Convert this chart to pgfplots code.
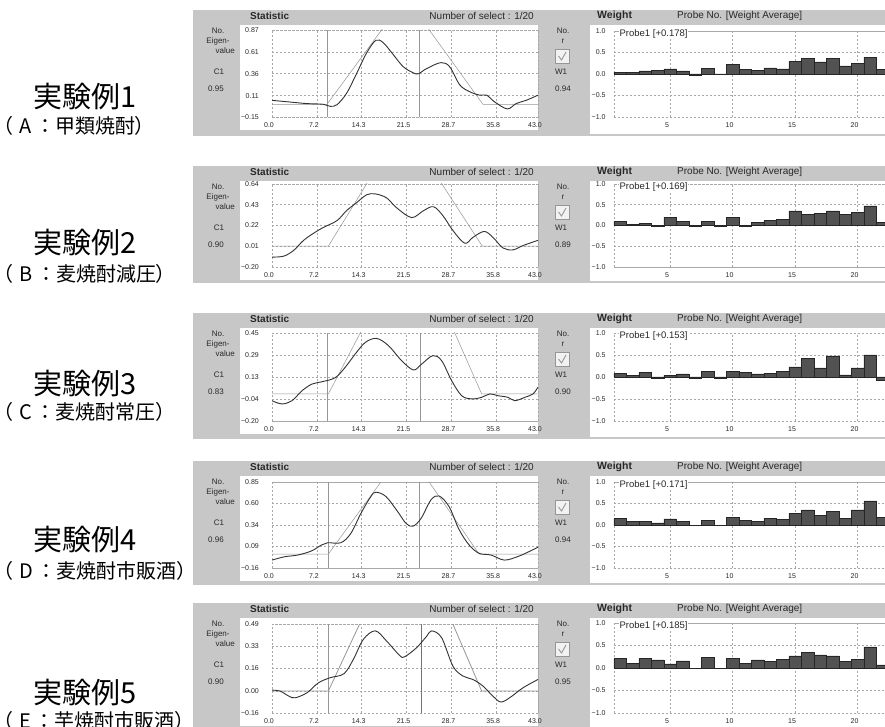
\documentclass[border=0pt]{standalone}
\usepackage{pgfplots}
\pgfplotsset{compat=1.18}
\usepackage{fontspec}
\setmainfont{Liberation Sans}
\newfontfamily\jp{Noto Sans CJK JP}
\newfontfamily\jpprop[RawFeature=+palt]{Noto Sans CJK JP}

\definecolor{panelgray}{RGB}{199,199,199}
\definecolor{gridgray}{RGB}{168,168,168}
\definecolor{curvecol}{RGB}{50,50,50}
\definecolor{guidecol}{RGB}{150,150,150}
\definecolor{barfill}{RGB}{82,82,82}
\definecolor{checkgray}{RGB}{150,150,150}
\definecolor{uitext}{RGB}{40,40,40}

\tikzset{
  probelabel/.style={anchor=west, fill=white, inner sep=0.8pt,
    font=\fontsize{9.5}{10}\selectfont, text=uitext},
}

\pgfplotsset{
  panelaxis/.style={
    scale only axis,
    anchor=north west,
    axis line style={gridgray, dash pattern=on 2pt off 2pt, line width=0.5pt},
    grid=major,
    major grid style={gridgray, dash pattern=on 2pt off 2pt, line width=0.5pt},
    major tick length=0pt,
    tick label style={font=\fontsize{7}{8}\selectfont, text=uitext},
    /pgf/number format/assume math mode=true,
    clip mode=individual,
  },
  statax/.style={
    panelaxis,
    width=266pt,
    xmin=0, xmax=42.5,
    xtick={0,7.17,14.33,21.5,28.67,35.83,42.5},
    xticklabels={0.0,7.2,14.3,21.5,28.7,35.8,43.0},
    xticklabel style={anchor=north, inner sep=0pt, yshift=-5pt, xshift=-3pt},
    yticklabel style={anchor=east, inner sep=0pt, xshift=-13pt},
  },
  weightax/.style={
    panelaxis,
    width=271.25pt,
    xmin=0.5, xmax=22.2, ymin=-1, ymax=1,
    xtick={5,10,15,20},
    xticklabels={5,10,15,20},
    ytick={-1,-0.5,0,0.5,1},
    yticklabels={−1.0,−0.5,0.0,0.5,1.0},
    xticklabel style={anchor=north, inner sep=0pt, yshift=-5.5pt, xshift=-3pt},
    yticklabel style={anchor=east, inner sep=0pt, xshift=-8pt},
  },
  curve/.style={curvecol, line width=0.9pt, smooth, tension=0.55, no markers},
  guide/.style={guidecol, line width=0.5pt, no markers},
  wbar/.style={ybar, bar width=1, fill=barfill, draw=black!85, line width=0.45pt},
}

% Grey window frame of one result row:
% #1 top, #2 bottom, #3 bottom of the plot areas (pixels from the top edge),
% #4 eigenvalue C1, #5 weight W1
\newcommand{\panel}[5]{%
  \pgfmathsetmacro{\T}{726-#1}%
  \pgfmathsetmacro{\B}{726-#2}%
  \pgfmathsetmacro{\P}{726-#3}%
  \fill[panelgray] (193,\T) rectangle (885,\B);
  \fill[white] (240,{\T-15}) rectangle (538,{\P-13});
  \fill[white] (590,{\T-15}) rectangle (885,{\B+2});
  \node[font=\bfseries\fontsize{10}{11}\selectfont, text=uitext, anchor=west, inner sep=0pt] at (250,{\T-5.5}) {Statistic};
  \node[font=\fontsize{10}{11}\selectfont, text=uitext, anchor=east, inner sep=0pt] at (534,{\T-5.5}) {Number of select : 1/20};
  \node[font=\bfseries\fontsize{10.5}{11}\selectfont, text=uitext, anchor=west, inner sep=0pt] at (597,{\T-5.5}) {Weight};
  \node[font=\fontsize{10}{11}\selectfont, text=uitext, anchor=west, inner sep=0pt] at (677,{\T-5.5}) {Probe No. [Weight Average]};
  \begin{scope}[every node/.style={font=\fontsize{8}{9}\selectfont, text=uitext, inner sep=0pt}]
    \node at (218,{\T-21}) {No.};
    \node at (218,{\T-31}) {Eigen-};
    \node[anchor=east] at (235,{\T-41}) {value};
    \node at (219,{\T-62}) {C1};
    \node at (216,{\T-79}) {#4};
    \node at (563,{\T-21}) {No.};
    \node at (563,{\T-31}) {r};
    \node at (561,{\T-62}) {W1};
    \node at (563,{\T-79}) {#5};
  \end{scope}
  \draw[checkgray, fill=black!5, line width=0.6pt] (555,{\T-39}) rectangle (569,{\T-53});
  \draw[checkgray, line width=0.9pt] (558.5,{\T-46}) -- (561.5,{\T-50}) -- (566,{\T-42});
}

% #1 centre height of the title, #2 centre height of the sample line,
% #3 title, #4 letter, #5 sample name
\newcommand{\sample}[5]{%
  \node[font=\jp\fontsize{29}{30}\selectfont, anchor=west, inner sep=0pt] at (33,{726-#1}) {#3};
  \node[font=\jpprop\fontsize{20}{21}\selectfont, anchor=west, inner sep=0pt] at (3,{726-#2})
    {（\hspace{6pt}#4\hspace{9pt}：\hspace{5pt}#5）};
}

\begin{document}
\begin{tikzpicture}[x=1pt, y=1pt]
\useasboundingbox (0,0) rectangle (885,726);
\clip (0,0) rectangle (885,726);
\fill[white] (0,0) rectangle (885,726);

% ---------------- Sample A ----------------
\sample{97}{126}{実験例1}{A}{甲類焼酎}
\panel{10}{136}{117.5}{0.95}{0.94}
\begin{axis}[statax, at={(272pt,696pt)}, height=87.5pt,
  ymin=-0.15, ymax=0.87, ytick={-0.15,0.105,0.36,0.615,0.87},
  yticklabels={−0.15,0.11,0.36,0.61,0.87}]
\addplot[guide] coordinates {(8.9,-0.15) (8.9,0.87)};
\addplot[guide] coordinates {(23.6,-0.15) (23.6,0.87)};
\addplot[guide] coordinates {(0,0.004) (8.8,0.004) (18.5,0.969) (24.1,0.974) (33.7,0.004) (42.5,0.004)};
\addplot[curve] coordinates {(0,0.05) (2.9,0.03) (5.6,0.012) (8.2,0.004) (9.3,-0.02) (10.4,0.0)
  (11.9,0.13) (13.5,0.36) (15.1,0.60) (16.6,0.75) (17.8,0.72) (19.4,0.58) (21.0,0.44)
  (22.6,0.37) (23.4,0.36) (24.7,0.42) (27.0,0.49) (28.4,0.44) (30.0,0.23) (31.6,0.15)
  (33.2,0.11) (34.3,0.11) (35.6,0.03) (37.6,-0.05) (39.0,0.012) (40.6,0.05) (42.5,0.11)};
\end{axis}
\begin{axis}[weightax, at={(613.75pt,695pt)}, height=86pt]
\addplot[wbar] coordinates {(1,0.04) (2,0.03) (3,0.07) (4,0.08) (5,0.12) (6,0.07) (7,-0.02)
  (8,0.13) (9,-0.01) (10,0.22) (11,0.10) (12,0.08) (13,0.14) (14,0.12) (15,0.29) (16,0.36)
  (17,0.28) (18,0.36) (19,0.19) (20,0.25) (21,0.39) (22,0.11)};
\node[probelabel] at (rel axis cs:0.018,0.965) {Probe1 [+0.178]};
\end{axis}

% ---------------- Sample B ----------------
\sample{243}{274}{実験例2}{B}{麦焼酎減圧}
\panel{166}{283}{267}{0.90}{0.89}
\begin{axis}[statax, at={(272pt,542pt)}, height=83pt,
  ymin=-0.20, ymax=0.64, ytick={-0.20,0.01,0.22,0.43,0.64},
  yticklabels={−0.20,0.01,0.22,0.43,0.64}]
\addplot[guide] coordinates {(0,0.01) (9.0,0.01) (16.1,0.743) (26.1,0.743) (33.6,0.01) (42.5,0.01)};
\addplot[curve] coordinates {(0,-0.10) (1.9,-0.09) (3.5,-0.03) (5.0,0.067) (6.6,0.14) (8.2,0.20)
  (10.4,0.27) (11.9,0.37) (13.5,0.45) (15.1,0.53) (16.5,0.54) (18.3,0.50) (19.9,0.40)
  (22.3,0.30) (24.2,0.37) (25.8,0.41) (27.3,0.32) (28.9,0.17) (30.8,0.04) (32.1,0.10)
  (33.9,0.16) (35.3,0.10) (36.9,-0.007) (38.5,-0.027) (40.1,0.017) (42.5,0.07)};
\end{axis}
\begin{axis}[weightax, at={(613.75pt,542pt)}, height=83pt]
\addplot[wbar] coordinates {(1,0.10) (2,0.02) (3,0.05) (4,-0.01) (5,0.20) (6,0.10) (7,-0.02)
  (8,0.10) (9,-0.02) (10,0.19) (11,-0.01) (12,0.07) (13,0.12) (14,0.15) (15,0.35) (16,0.27)
  (17,0.29) (18,0.35) (19,0.27) (20,0.31) (21,0.47) (22,0.08)};
\node[probelabel] at (rel axis cs:0.018,0.965) {Probe1 [+0.169]};
\end{axis}

% ---------------- Sample C ----------------
\sample{384}{412}{実験例3}{C}{麦焼酎常圧}
\panel{313}{439}{421}{0.83}{0.90}
\begin{axis}[statax, at={(272pt,393pt)}, height=88pt,
  ymin=-0.20, ymax=0.45, ytick={-0.20,-0.0375,0.125,0.2875,0.45},
  yticklabels={−0.20,−0.04,0.13,0.29,0.45}]
\addplot[guide] coordinates {(8.9,-0.20) (8.9,0.45)};
\addplot[guide] coordinates {(23.7,-0.20) (23.7,0.45)};
\addplot[guide] coordinates {(0,0) (9.0,0) (15.3,0.556) (28.2,0.555) (33.5,0) (42.5,0)};
\addplot[curve] coordinates {(0,-0.05) (1.6,-0.074) (3.2,-0.05) (4.8,0.024) (6.4,0.073) (8.0,0.09)
  (10.1,0.12) (11.7,0.197) (13.3,0.295) (14.9,0.38) (16.7,0.41) (18.6,0.357) (20.7,0.246)
  (22.6,0.177) (23.9,0.22) (25.7,0.283) (27.1,0.246) (28.7,0.098) (30.3,-0.013) (31.9,-0.037)
  (33.5,-0.025) (34.8,0.0) (36.1,-0.013) (37.7,-0.025) (38.8,-0.05) (40.4,-0.025) (41.7,0.0)
  (42.5,0.05)};
\end{axis}
\begin{axis}[weightax, at={(613.75pt,393pt)}, height=88pt]
\addplot[wbar] coordinates {(1,0.09) (2,0.03) (3,0.11) (4,-0.02) (5,0.04) (6,0.07) (7,-0.02)
  (8,0.13) (9,-0.02) (10,0.13) (11,0.10) (12,0.07) (13,0.08) (14,0.13) (15,0.23) (16,0.42)
  (17,0.21) (18,0.48) (19,0.05) (20,0.21) (21,0.50) (22,-0.08)};
\node[probelabel] at (rel axis cs:0.018,0.965) {Probe1 [+0.153]};
\end{axis}

% ---------------- Sample D ----------------
\sample{540}{571}{実験例4}{D}{麦焼酎市販酒}
\panel{461}{585}{568}{0.96}{0.94}
\begin{axis}[statax, at={(272pt,244pt)}, height=86pt,
  ymin=-0.16, ymax=0.85, ytick={-0.16,0.0925,0.345,0.5975,0.85},
  yticklabels={−0.16,0.09,0.34,0.60,0.85}]
\addplot[guide] coordinates {(9.0,-0.16) (9.0,0.85)};
\addplot[guide] coordinates {(23.6,-0.16) (23.6,0.85)};
\addplot[guide] coordinates {(0,0.004) (9.0,0.004) (18.4,0.951) (24.1,0.956) (33.1,0.004) (42.5,0.004)};
\addplot[curve] coordinates {(0,-0.067) (2.0,-0.028) (4.1,-0.008) (6.3,0.04) (7.9,0.11) (8.9,0.137)
  (11.0,0.137) (12.6,0.247) (14.2,0.48) (15.8,0.68) (16.6,0.73) (18.2,0.68) (20.1,0.50)
  (21.4,0.365) (22.5,0.33) (23.8,0.42) (25.4,0.64) (26.7,0.686) (28.3,0.56) (29.9,0.29)
  (31.5,0.11) (33.1,0.012) (35.0,-0.008) (37.1,-0.067) (39.2,-0.028) (40.8,0.023) (42.5,0.085)};
\end{axis}
\begin{axis}[weightax, at={(613.75pt,244pt)}, height=86pt]
\addplot[wbar] coordinates {(1,0.15) (2,0.08) (3,0.08) (4,0.05) (5,0.14) (6,0.09) (7,-0.01)
  (8,0.11) (9,-0.01) (10,0.17) (11,0.11) (12,0.08) (13,0.15) (14,0.13) (15,0.27) (16,0.35)
  (17,0.23) (18,0.32) (19,0.15) (20,0.35) (21,0.56) (22,0.17)};
\node[probelabel] at (rel axis cs:0.018,0.965) {Probe1 [+0.171]};
\end{axis}

% ---------------- Sample E ----------------
\sample{693}{721}{実験例5}{E}{芋焼酎市販酒}
\panel{603}{730}{713}{0.90}{0.95}
\begin{axis}[statax, at={(272pt,102pt)}, height=89pt,
  ymin=-0.16, ymax=0.49, ytick={-0.16,0.0025,0.165,0.3275,0.49},
  yticklabels={−0.16,0.00,0.16,0.33,0.49}]
\addplot[guide] coordinates {(9.0,-0.16) (9.0,0.49)};
\addplot[guide, line width=0.8pt, black!55] coordinates {(23.8,-0.16) (23.8,0.49)};
\addplot[guide, line width=0.8pt] coordinates {(0,0) (9.0,0) (15.0,0.588) (27.9,0.596) (33.5,0) (42.5,0)};
\addplot[curve] coordinates {(0,0.007) (1.3,0.0) (2.7,-0.037) (3.7,-0.049) (5.6,-0.012) (7.4,0.06)
  (9.3,0.098) (11.5,0.127) (13.0,0.232) (14.6,0.378) (16.5,0.44) (18.3,0.366) (20.4,0.26)
  (21.2,0.251) (23.1,0.317) (24.7,0.40) (25.5,0.44) (27.1,0.39) (28.9,0.183) (30.5,0.11)
  (32.1,0.085) (33.7,0.037) (35.3,-0.037) (36.6,-0.08) (38.2,-0.041) (40.1,0.024) (42.5,0.085)};
\end{axis}
\begin{axis}[weightax, at={(613.75pt,103pt)}, height=90pt]
\addplot[wbar] coordinates {(1,0.21) (2,0.11) (3,0.21) (4,0.18) (5,0.09) (6,0.16) (7,-0.01)
  (8,0.24) (9,-0.01) (10,0.21) (11,0.11) (12,0.18) (13,0.14) (14,0.20) (15,0.27) (16,0.35)
  (17,0.29) (18,0.27) (19,0.14) (20,0.20) (21,0.47) (22,0.07)};
\node[probelabel] at (rel axis cs:0.018,0.965) {Probe1 [+0.185]};
\end{axis}
\end{tikzpicture}
\end{document}
